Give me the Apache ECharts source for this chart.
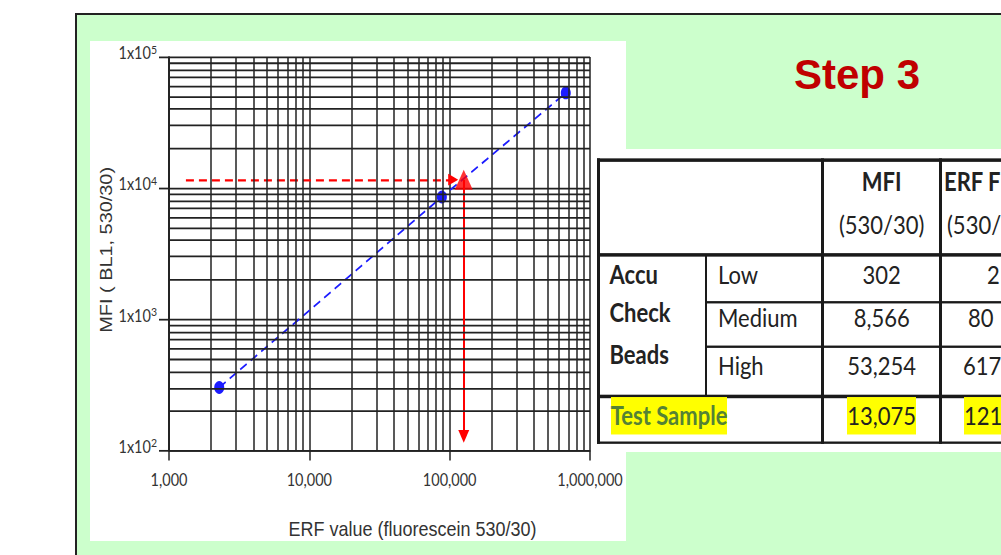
<!DOCTYPE html>
<html><head><meta charset="utf-8">
<script src="https://cdn.jsdelivr.net/npm/echarts@6/dist/echarts.min.js"></script>
<style>
html,body{margin:0;padding:0;width:1001px;height:555px;overflow:hidden;background:#fff;}
body{position:relative;}
#frame{position:absolute;left:75px;top:13px;width:1000px;height:600px;border:2px solid #222;background:#ccffcc;}
#panel{position:absolute;left:90px;top:41px;width:536px;height:500px;background:#fff;overflow:hidden;}
#chart{position:absolute;left:0;top:0;width:536px;height:427px;transform:scaleY(1.17096);transform-origin:0 0;}
#step{position:absolute;left:794px;top:54px;font:bold 42px 'Liberation Sans',Arial,sans-serif;color:#c00000;line-height:42px;white-space:nowrap;}
#tablebox{position:absolute;left:592px;top:149px;width:409px;height:303px;background:#fff;overflow:hidden;}
#table{position:absolute;left:0;top:0;width:409px;height:259px;transform:scaleY(1.17);transform-origin:0 0;font-family:Lato,'Open Sans',sans-serif;font-size:22px;color:#222;}
</style>
</head><body>
<div id="frame"></div>
<div id="panel"><div id="chart"></div></div>
<div id="step">Step 3</div>
<div id="tablebox"><div id="table"></div></div>
<script>
// ---------------- data ----------------
const xTickLabels = ['1,000', '10,000', '100,000', '1,000,000'];   // 10^3 .. 10^6
const yTickMantissa = '1x10';
const yTickExponents = ['2', '3', '4', '5'];                        // 10^2 .. 10^5
const xTitle = 'ERF value (fluorescein 530/30)';
const yTitle = 'MFI ( BL1, 530/30)';

const beadLevels = ['Low', 'Medium', 'High'];
const beadERF = [2280, 88000, 672000];
const beadMFI = [302, 8566, 53254];

const testERF = 126000;      // read where the drop line falls
const testMFI = 11600;       // read at the horizontal guide
const guideStartERF = 1320;  // left end of the dashed guide
const guideTipERF = 106000;  // arrow head on the guide
const dropEndMFI = 128;      // arrow head on the drop line

// table texts (the right-most column is cut by the slide edge: only its visible part is kept)
const tableHeadTop = ['MFI', 'ERF F'];
const tableHeadBottom = ['(530/30)', '(530/'];
const tableGroup = ['Accu', 'Check', 'Beads'];
const tableMFI = ['302', '8,566', '53,254'];
const tableERF = ['2', '80', '617'];
const testRow = ['Test Sample', '13,075', '121'];

// ---------------- chart ----------------
const chart = echarts.init(document.getElementById('chart'), null, {renderer: 'svg'});
const gridColor = '#222';
const minorSteps = [2, 3, 4, 5, 6, 7, 8, 9];
const minorLines = [];
[1e3, 1e4, 1e5].forEach(d => minorSteps.forEach(m => minorLines.push({xAxis: m * d})));
[1e2, 1e3, 1e4].forEach(d => minorSteps.forEach(m => minorLines.push({yAxis: m * d})));

const option = {
  animation: false,
  backgroundColor: '#fff',
  grid: {left: 79, right: 36, top: 13.66, bottom: 77.3, containLabel: false, outerBoundsMode: 'none'},
  xAxis: {
    type: 'log', logBase: 10, min: 1000, max: 1000000,
    axisLine: {show: true, lineStyle: {color: gridColor, width: 1.5}},
    axisTick: {show: true, length: 8.5, lineStyle: {color: gridColor, width: 1.5}},
    splitLine: {show: true, lineStyle: {color: gridColor, width: 1.5}},
    axisLabel: {
      margin: 17, fontFamily: 'Lato', fontSize: 14.5, color: '#333',
      formatter: v => xTickLabels[Math.round(Math.log10(v)) - 3]
    },
    name: xTitle, nameLocation: 'middle', nameGap: 57.5,
    nameTextStyle: {fontFamily: 'Liberation Sans', fontSize: 18, lineHeight: 18, color: '#333', padding: [0, 0, 0, 66]}
  },
  yAxis: {
    type: 'log', logBase: 10, min: 100, max: 100000,
    axisLine: {show: true, lineStyle: {color: gridColor, width: 1.5}},
    axisTick: {show: true, length: 10, lineStyle: {color: gridColor, width: 1.5}},
    splitLine: {show: true, lineStyle: {color: gridColor, width: 1.5}},
    axisLabel: {
      margin: 12, padding: [0, 0, 9, 0],
      formatter: v => '{b|' + yTickMantissa + '}{s|' + yTickExponents[Math.round(Math.log10(v)) - 2] + '}',
      rich: {
        b: {fontFamily: 'Lato', fontSize: 14.5, color: '#333', lineHeight: 16, verticalAlign: 'bottom'},
        s: {fontFamily: 'Lato', fontSize: 10.5, color: '#333', lineHeight: 10, verticalAlign: 'top'}
      }
    },
    name: yTitle, nameLocation: 'middle', nameGap: 54.5, nameMoveOverlap: false,
    nameTextStyle: {fontFamily: 'Liberation Sans', fontSize: 17, color: '#333', padding: [0, 0, 0, 6.6]}
  },
  series: [
    {
      type: 'line', data: [], silent: true, z: 1,
      markLine: {
        silent: true, animation: false, symbol: ['none', 'none'], label: {show: false},
        lineStyle: {color: gridColor, width: 1.5, type: 'solid'},
        emphasis: {disabled: true},
        data: minorLines
      }
    },
    {
      name: 'AccuCheck beads', type: 'line', z: 3,
      data: beadERF.map((e, i) => [e, beadMFI[i]]),
      lineStyle: {color: '#1c1cff', width: 1.6, type: [8, 5]},
      symbol: 'circle', symbolSize: [10, 11],
      itemStyle: {color: '#1c1cff'}
    },
    {
      name: 'guide', type: 'lines', coordinateSystem: 'cartesian2d', z: 4,
      symbol: ['none', 'triangle'], symbolSize: [11, 10],
      lineStyle: {color: '#ff0000', width: 2, opacity: 1, type: [8, 5], curveness: 0},
      data: [{coords: [[guideStartERF, testMFI], [guideTipERF, testMFI]]}]
    },
    {
      name: 'drop', type: 'lines', coordinateSystem: 'cartesian2d', z: 4,
      symbol: ['none', 'triangle'], symbolSize: [12, 11],
      lineStyle: {color: '#ff0000', width: 2, opacity: 1, type: 'solid', curveness: 0},
      data: [{coords: [[testERF, testMFI], [testERF, dropEndMFI]]}]
    },
    {
      name: 'Test Sample', type: 'scatter', z: 5,
      data: [[testERF, testMFI]],
      symbol: 'triangle', symbolSize: [18, 17],
      itemStyle: {color: '#ff0000'}
    }
  ]
};
chart.setOption(option);

// ---------------- table ----------------
const tb = document.getElementById('table');
function addDiv(css, text) {
  const d = document.createElement('div');
  d.style.cssText = 'position:absolute;' + css;
  if (text != null) d.textContent = text;
  tb.appendChild(d);
  return d;
}
const lineCol = '#1a1a1a';
// horizontal rules: y centre, thickness, x from, x to (pre-stretch units)
[[9.4, 2.6, 5, 420], [90.6, 2.6, 5, 420], [130.8, 2.2, 114, 420], [169.0, 2.2, 114, 420],
 [211.7, 2.6, 5, 420], [250.9, 2.6, 5, 420]].forEach(h => {
  addDiv(`left:${h[2]}px;top:${h[0] - h[1] / 2}px;width:${h[3] - h[2]}px;height:${h[1]}px;background:${lineCol};`);
});
// vertical rules: x centre, width, y from, y to
[[6.5, 2.7, 8.1, 252.2], [114, 2.5, 90.6, 211.7], [230.7, 2.5, 8.1, 252.2], [348.7, 2.5, 8.1, 252.2]].forEach(v => {
  addDiv(`left:${v[0] - v[1] / 2}px;top:${v[2]}px;width:${v[1]}px;height:${v[3] - v[2]}px;background:${lineCol};`);
});
const cols = [[5, 109], [114, 116.7], [230.7, 118], [348.7, 118]];
function cell(col, top, text, extra) {
  return addDiv(`left:${cols[col][0]}px;width:${cols[col][1]}px;top:${top}px;height:22px;line-height:22px;text-align:center;white-space:nowrap;${extra || ''}`, text);
}
function leftText(x, top, text, extra) {
  return addDiv(`left:${x}px;top:${top}px;height:22px;line-height:22px;white-space:nowrap;${extra || ''}`, text);
}
cell(2, 17, tableHeadTop[0], 'font-weight:bold;');
leftText(352, 17, tableHeadTop[1], 'font-weight:bold;');
cell(2, 54, tableHeadBottom[0]);
leftText(355, 54, tableHeadBottom[1]);
const rowTops = [96.1, 132.8, 173.9];
const groupTops = [96.1, 129.4, 164.7];
const erfLeft = [395, 376, 371];
tableGroup.forEach((t, i) => leftText(17.5, groupTops[i], t, 'font-weight:bold;'));
beadLevels.forEach((t, i) => leftText(126, rowTops[i], t));
tableMFI.forEach((t, i) => cell(2, rowTops[i], t));
tableERF.forEach((t, i) => leftText(erfLeft[i], rowTops[i], t));
// test sample row with yellow highlight
function hl(css, text, extra) {
  const d = addDiv(css + 'top:211.7px;height:32.7px;white-space:nowrap;');
  const s = document.createElement('span');
  s.style.cssText = 'display:inline-block;background:#ffff00;line-height:32.7px;height:32.7px;' + (extra || '');
  s.textContent = text;
  d.appendChild(s);
}
hl('left:18.7px;', testRow[0], 'font-weight:bold;color:#548235;');
hl(`left:${cols[2][0]}px;width:${cols[2][1]}px;text-align:center;`, testRow[1]);
hl('left:372px;', testRow[2], 'padding-right:20px;');
</script>
</body></html>
